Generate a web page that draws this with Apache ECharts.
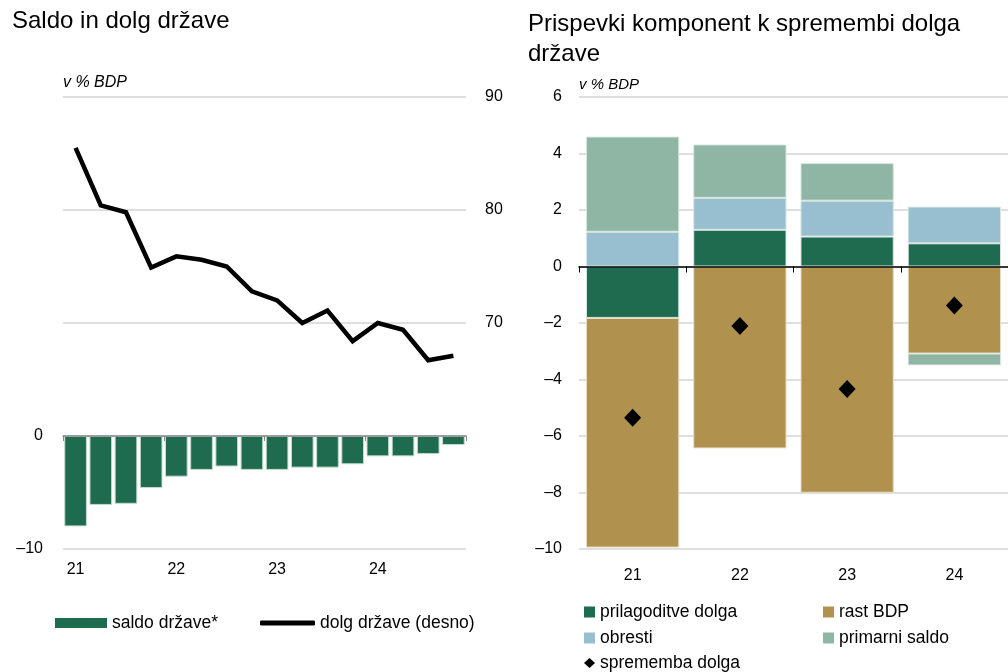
<!DOCTYPE html>
<html>
<head>
<meta charset="utf-8">
<script src="https://cdn.jsdelivr.net/npm/echarts@6/dist/echarts.min.js"></script>
<style>
  html, body { margin: 0; padding: 0; background: #fff; }
  #main { width: 1008px; height: 672px; }
</style>
</head>
<body>
<div id="main"></div>
<script>
// levi graf: četrtletja 2021-2024
var quarters = ['21 Q1', '21 Q2', '21 Q3', '21 Q4', '22 Q1', '22 Q2', '22 Q3', '22 Q4',
                '23 Q1', '23 Q2', '23 Q3', '23 Q4', '24 Q1', '24 Q2', '24 Q3', '24 Q4'];
var saldo = [-8.0, -6.1, -6.0, -4.6, -3.6, -3.0, -2.7, -3.0, -3.0, -2.8, -2.8, -2.5, -1.8, -1.8, -1.6, -0.8];
var dolg = [85.5, 80.4, 79.8, 74.9, 75.9, 75.6, 75.0, 72.8, 72.0, 70.0, 71.1, 68.4, 70.0, 69.4, 66.7, 67.1];

// desni graf: prispevki komponent
var years = ['21', '22', '23', '24'];
var prilagoditve = [-1.82, 1.30, 1.06, 0.82];
var obresti = [1.23, 1.13, 1.27, 1.30];
var rastBdp = [-8.13, -6.44, -8.01, -3.08];
var primarni = [3.37, 1.89, 1.33, -0.42];
var sprememba = [-5.35, -2.11, -4.34, -1.38];

var FONT = "'Liberation Sans', Arial, sans-serif";
var GREEN = '#1f6b50';
var BLUE = '#98bfcf';
var GOLD = '#b0924e';
var SAGE = '#8fb5a5';
var GRIDLINE = '#d4d4d4';

function minus(v) {
    return v < 0 ? '\u2013' + Math.abs(v) : String(v);
}

function legendItem(name, left, top, opts) {
    var o = {
        data: [name],
        left: left,
        top: top,
        orient: 'horizontal',
        padding: 0,
        itemGap: 0,
        selectedMode: false,
        itemStyle: { borderWidth: 0 },
        textStyle: { fontFamily: FONT, fontSize: 17.5, color: '#000' }
    };
    for (var k in opts) { o[k] = opts[k]; }
    return o;
}

var option = {
    animation: false,
    backgroundColor: '#fff',
    textStyle: { fontFamily: FONT },
    title: [
        { text: 'Saldo in dolg države', left: 7, top: 4,
          textStyle: { fontFamily: FONT, fontSize: 24, fontWeight: 'normal', color: '#000' } },
        { text: 'Prispevki komponent k spremembi dolga\ndržave', left: 523, top: 4,
          textStyle: { fontFamily: FONT, fontSize: 24, fontWeight: 'normal', color: '#000', lineHeight: 30 } },
        { text: 'v % BDP', left: 63, top: 75, padding: 0,
          textStyle: { fontFamily: FONT, fontSize: 16, fontStyle: 'italic', fontWeight: 'normal', color: '#000' } },
        { text: 'v % BDP', left: 579, top: 77, padding: 0,
          textStyle: { fontFamily: FONT, fontSize: 15, fontStyle: 'italic', fontWeight: 'normal', color: '#000' } }
    ],
    legend: [
        legendItem('saldo države*', 55, 614, { itemWidth: 52, itemHeight: 10, icon: 'rect', itemGap: 5 }),
        legendItem('dolg države (desno)', 260, 614, { itemWidth: 55, itemHeight: 5, icon: 'roundRect' }),
        legendItem('prilagoditve dolga', 584, 603, { itemWidth: 11, itemHeight: 11, icon: 'rect' }),
        legendItem('rast BDP', 823, 603, { itemWidth: 11, itemHeight: 11, icon: 'rect' }),
        legendItem('obresti', 584, 629, { itemWidth: 11, itemHeight: 11, icon: 'rect' }),
        legendItem('primarni saldo', 823, 629, { itemWidth: 11, itemHeight: 11, icon: 'rect' }),
        legendItem('sprememba dolga', 584, 654, { itemWidth: 11, itemHeight: 10, icon: 'diamond' })
    ],
    grid: [
        { left: 63, right: 542, top: 97, bottom: 123 },
        { left: 579, right: -9, top: 97, bottom: 123 }
    ],
    xAxis: [
        {
            gridIndex: 0,
            type: 'category',
            data: quarters,
            z: 10,
            axisLine: { show: true, onZero: true, lineStyle: { color: '#888', width: 1.5 } },
            axisTick: { show: true, interval: 3, length: 5, lineStyle: { color: '#888' } },
            axisLabel: {
                interval: 3,
                margin: 13,
                color: '#000',
                fontSize: 16,
                fontFamily: FONT,
                formatter: function (v) { return v.split(' ')[0]; }
            }
        },
        {
            gridIndex: 1,
            type: 'category',
            data: years,
            z: 10,
            axisLine: { show: true, onZero: true, lineStyle: { color: '#000', width: 1.5 } },
            axisTick: { show: true, length: 6, lineStyle: { color: '#000' } },
            axisLabel: { margin: 19, color: '#000', fontSize: 16, fontFamily: FONT, interval: 0 }
        }
    ],
    yAxis: [
        {
            gridIndex: 0,
            type: 'value',
            min: -10, max: 30, interval: 10,
            position: 'left',
            axisLine: { show: false },
            axisTick: { show: false },
            axisLabel: {
                margin: 20, color: '#000', fontSize: 16, fontFamily: FONT,
                formatter: function (v) { return v <= 0 ? minus(v) : ''; }
            },
            splitLine: { show: true, lineStyle: { color: GRIDLINE, width: 1.5 } }
        },
        {
            gridIndex: 0,
            type: 'value',
            min: 50, max: 90, interval: 10,
            position: 'right',
            axisLine: { show: false },
            axisTick: { show: false },
            axisLabel: {
                margin: 19, color: '#000', fontSize: 16, fontFamily: FONT,
                formatter: function (v) { return v >= 70 ? String(v) : ''; }
            },
            splitLine: { show: false }
        },
        {
            gridIndex: 1,
            type: 'value',
            min: -10, max: 6, interval: 2,
            axisLine: { show: false },
            axisTick: { show: false },
            axisLabel: { margin: 17, color: '#000', fontSize: 16, fontFamily: FONT, formatter: minus },
            splitLine: { show: true, lineStyle: { color: GRIDLINE, width: 1.5 } }
        }
    ],
    series: [
        {
            name: 'saldo države*',
            type: 'bar',
            xAxisIndex: 0, yAxisIndex: 0,
            data: saldo,
            barCategoryGap: '10%',
            itemStyle: { color: GREEN, borderColor: '#c4d9cf', borderWidth: 1 }
        },
        {
            name: 'dolg države (desno)',
            type: 'line',
            xAxisIndex: 0, yAxisIndex: 1,
            data: dolg,
            symbol: 'none',
            z: 5,
            lineStyle: { color: '#000', width: 4.5, join: 'miter' },
            itemStyle: { color: '#000' }
        },
        {
            name: 'prilagoditve dolga',
            type: 'bar', stack: 'k',
            xAxisIndex: 1, yAxisIndex: 2,
            data: prilagoditve,
            barCategoryGap: '13%',
            itemStyle: { color: GREEN, borderColor: '#d8e6e0', borderWidth: 1 }
        },
        {
            name: 'obresti',
            type: 'bar', stack: 'k',
            xAxisIndex: 1, yAxisIndex: 2,
            data: obresti,
            itemStyle: { color: BLUE, borderColor: '#d8e6e0', borderWidth: 1 }
        },
        {
            name: 'rast BDP',
            type: 'bar', stack: 'k',
            xAxisIndex: 1, yAxisIndex: 2,
            data: rastBdp,
            itemStyle: { color: GOLD, borderColor: '#e6ddc8', borderWidth: 1 }
        },
        {
            name: 'primarni saldo',
            type: 'bar', stack: 'k',
            xAxisIndex: 1, yAxisIndex: 2,
            data: primarni,
            itemStyle: { color: SAGE, borderColor: '#d8e6e0', borderWidth: 1 }
        },
        {
            name: 'sprememba dolga',
            type: 'scatter',
            xAxisIndex: 1, yAxisIndex: 2,
            data: sprememba,
            symbol: 'diamond',
            symbolSize: [17, 18],
            z: 12,
            itemStyle: { color: '#000', opacity: 1 }
        }
    ]
};

var chart = echarts.init(document.getElementById('main'), null, { renderer: 'canvas' });
chart.setOption(option);
</script>
</body>
</html>
